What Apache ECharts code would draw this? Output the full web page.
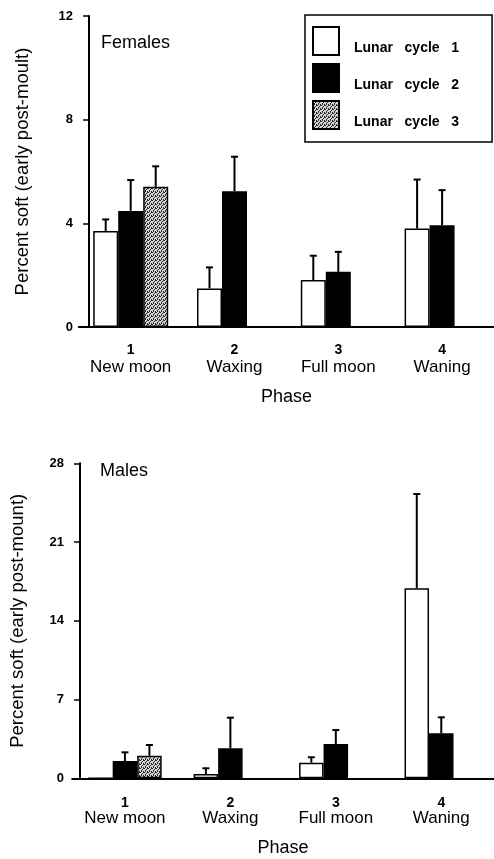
<!DOCTYPE html>
<html><head><meta charset="utf-8">
<script src="https://cdn.jsdelivr.net/npm/echarts@6/dist/echarts.min.js"></script>
<style>html,body{margin:0;padding:0;background:#fff}#c{width:494px;height:859px}</style>
</head><body><div id="c"></div>
<script>
// ---- data ----
const phaseNumbers = ['1', '2', '3', '4'];
const phaseNames = ['New moon', 'Waxing', 'Full moon', 'Waning'];
const cycleNames = ['Lunar cycle 1', 'Lunar cycle 2', 'Lunar cycle 3'];

const femalesCycle1 = [3.70, 1.49, 1.81, 3.80];
const femalesCycle1Err = [0.45, 0.81, 0.94, 1.89];
const femalesCycle2 = [4.48, 5.24, 2.13, 3.93];
const femalesCycle2Err = [1.19, 1.33, 0.77, 1.35];
const femalesCycle3 = [5.41, null, null, null];
const femalesCycle3Err = [0.79, null, null, null];

const malesCycle1 = [0, 0.38, 1.39, 16.89];
const malesCycle1Err = [null, 0.51, 0.48, 8.38];
const malesCycle2 = [1.54, 2.67, 3.05, 4.00];
const malesCycle2Err = [0.77, 2.72, 1.24, 1.42];
const malesCycle3 = [2.01, null, null, null];
const malesCycle3Err = [0.95, null, null, null];

const femaleTicks = [0, 4, 8, 12];
const maleTicks = [0, 7, 14, 21, 28];

// ---- styling ----
const FONT = 'Liberation Sans';
const pat = document.createElement('canvas');
pat.width = 4; pat.height = 4;
(function () {
  const g = pat.getContext('2d');
  g.fillStyle = '#d4d4d4'; g.fillRect(0, 0, 4, 4);
  g.fillStyle = '#2a2a2a';
  [[0,0],[2,1],[1,2],[3,3],[3,0],[1,3]].forEach(p => g.fillRect(p[0], p[1], 1, 1));
})();
const fills = ['#ffffff', '#000000', { image: pat, repeat: 'repeat' }];

function errRender(offsetIdx, barW) {
  return function (params, api) {
    const c = api.value(0), v = api.value(1), e = api.value(2);
    const p0 = api.coord([c, v]);
    const p1 = api.coord([c, v + e]);
    const x = p0[0] + (offsetIdx - 1) * barW;
    return {
      type: 'group', children: [
        { type: 'line', shape: { x1: x, y1: p0[1], x2: x, y2: p1[1] }, style: { stroke: '#000', lineWidth: 2 } },
        { type: 'line', shape: { x1: x - 3.5, y1: p1[1], x2: x + 3.5, y2: p1[1] }, style: { stroke: '#000', lineWidth: 2 } }
      ]
    };
  };
}

function errData(vals, errs) {
  const out = [];
  vals.forEach((v, i) => { if (v != null && errs[i] != null) out.push([i, v, errs[i]]); });
  return out;
}

function xAxisCfg(gi, numLH, txtLH, margin) {
  return {
    type: 'category', gridIndex: gi, data: phaseNumbers,
    axisLine: { lineStyle: { color: '#000', width: 2 } },
    axisTick: { alignWithLabel: true, length: 8, lineStyle: { color: '#000', width: 1.5 } },
    axisLabel: {
      margin: margin, color: '#000',
      formatter: (val, idx) => '{n|' + val + '}\n{t|' + phaseNames[idx] + '}',
      rich: {
        n: { fontFamily: FONT, fontSize: 14, fontWeight: 'bold', lineHeight: numLH, color: '#000' },
        t: { fontFamily: FONT, fontSize: 17, lineHeight: txtLH, color: '#000' }
      }
    },
    name: 'Phase', nameLocation: 'middle', nameGap: 61,
    nameTextStyle: { fontFamily: FONT, fontSize: 18, color: '#000' }
  };
}

function yAxisCfg(gi, ticks, offset, name, nameGap) {
  return {
    type: 'value', gridIndex: gi, min: ticks[0], max: ticks[ticks.length - 1],
    interval: ticks[1] - ticks[0], offset: offset,
    axisLine: { show: true, lineStyle: { color: '#000', width: 2 } },
    axisTick: { show: true, length: 6, lineStyle: { color: '#000', width: 1.5 } },
    splitLine: { show: false },
    axisLabel: { margin: 16, color: '#000', fontFamily: FONT, fontSize: 13, fontWeight: 'bold' },
    name: name, nameLocation: 'middle', nameGap: nameGap,
    nameTextStyle: { fontFamily: FONT, fontSize: 18.5, color: '#000' }
  };
}

const series = [];
function addGroup(gi, arrs, errs, barW) {
  arrs.forEach((vals, k) => {
    series.push({
      type: 'bar', name: cycleNames[k], xAxisIndex: gi, yAxisIndex: gi,
      data: vals, barWidth: barW, barGap: '0%',
      itemStyle: { color: fills[k], borderColor: '#000', borderWidth: 1.5 },
      emphasis: { disabled: true }
    });
  });
  arrs.forEach((vals, k) => {
    series.push({
      type: 'custom', name: 'err' + gi + k, xAxisIndex: gi, yAxisIndex: gi, z: 5,
      renderItem: errRender(k, barW), data: errData(vals, errs[k])
    });
  });
}
addGroup(0, [femalesCycle1, femalesCycle2, femalesCycle3], [femalesCycle1Err, femalesCycle2Err, femalesCycle3Err], 25);
addGroup(1, [malesCycle1, malesCycle2, malesCycle3], [malesCycle1Err, malesCycle2Err, malesCycle3Err], 24.5);

const chart = echarts.init(document.getElementById('c'), null, { renderer: 'canvas' });
chart.setOption({
  backgroundColor: '#fff',
  animation: false,
  title: [
    { text: 'Females', left: 96, top: 29, textStyle: { fontFamily: FONT, fontSize: 18, fontWeight: 'normal', color: '#000' } },
    { text: 'Males', left: 95, top: 457, textStyle: { fontFamily: FONT, fontSize: 18, fontWeight: 'normal', color: '#000' } }
  ],
  legend: {
    data: cycleNames, orient: 'vertical', left: 305, top: 15,
    padding: [11, 33, 12, 7], itemGap: 7, itemWidth: 26, itemHeight: 28, icon: 'rect',
    borderColor: '#000', borderWidth: 1.5,
    formatter: n => '{g|}\n{a|' + n.replace(/ /g, '   ') + '}',
    textStyle: {
      fontFamily: FONT, fontSize: 14, fontWeight: 'bold', color: '#000', padding: [0, 0, 0, 10],
      rich: {
        g: { height: 14, lineHeight: 14 },
        a: { fontFamily: FONT, fontSize: 14, fontWeight: 'bold', color: '#000', lineHeight: 14 }
      }
    },
    selectedMode: false
  },
  grid: [
    { left: 78.8, top: 16, width: 436, height: 311 },
    { left: 72.2, top: 463.3, width: 436, height: 315 }
  ],
  xAxis: [xAxisCfg(0, 17, 18, 14.5), xAxisCfg(1, 15, 16, 17)],
  yAxis: [
    yAxisCfg(0, femaleTicks, -10.2, 'Percent soft (early post-moult)', 57),
    yAxisCfg(1, maleTicks, -7.8, 'Percent soft (early post-mount)', 53)
  ],
  series: series
});
</script></body></html>
